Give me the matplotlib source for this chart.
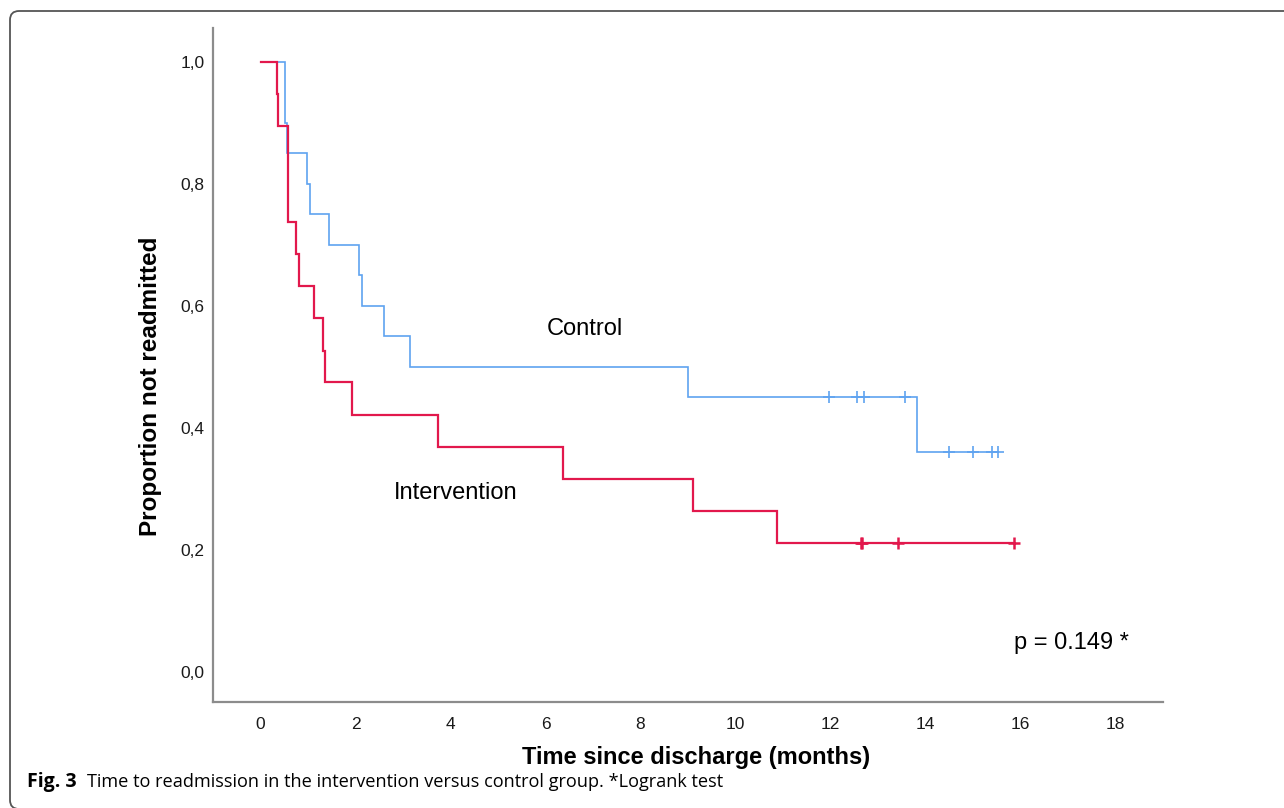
import matplotlib

matplotlib.use("Agg")
import matplotlib.pyplot as plt  # noqa: E402
from matplotlib import font_manager  # noqa: E402
from matplotlib.patches import FancyBboxPatch  # noqa: E402

# Kaplan-Meier steps (months since discharge, proportion)
control_times = [0.0, 0.51, 0.55, 0.97, 1.05, 1.45, 2.08, 2.13, 2.61, 3.14, 9.00, 13.83]
control_surv = [1.0, 0.90, 0.85, 0.80, 0.75, 0.70, 0.65, 0.60, 0.55, 0.50, 0.45, 0.36]
control_censored = [11.96, 12.55, 12.70, 13.56, 14.49, 15.01, 15.41, 15.52]

interv_times = [0.0, 0.34, 0.36, 0.57, 0.74, 0.80, 1.12, 1.31, 1.35, 1.92, 3.73, 6.36, 9.11, 10.88]
interv_surv = [1.0, 0.947, 0.895, 0.737, 0.684, 0.632, 0.579, 0.526, 0.474, 0.421,
               0.368, 0.316, 0.263, 0.211]
interv_censored = [12.64, 12.67, 13.43, 15.87]

x_ticks = [0, 2, 4, 6, 8, 10, 12, 14, 16, 18]
y_ticks = [0.0, 0.2, 0.4, 0.6, 0.8, 1.0]
y_ticklabels = ["0,0", "0,2", "0,4", "0,6", "0,8", "1,0"]

p_text = "p = 0.149 *"
caption_bold = "Fig. 3"
caption_rest = "Time to readmission in the intervention versus control group. *Logrank test"

BLUE = "#5fa3f0"
RED = "#e2184c"
FONT = "Liberation Sans"

names = {f.name for f in font_manager.fontManager.ttflist}
cap_font = "Liberation Sans Narrow" if "Liberation Sans Narrow" in names else "Open Sans"


def surv_at(times, surv, t):
    val = surv[0]
    for ti, si in zip(times, surv):
        if ti <= t:
            val = si
    return val


def km_curve(ax, times, surv, censored, color, lw, mew):
    end = max(censored)
    ax.step(times + [end], surv + [surv[-1]], where="post", color=color, lw=lw,
            solid_joinstyle="miter", zorder=3)
    ax.plot(censored, [surv_at(times, surv, t) for t in censored], ls="none",
            marker="+", ms=8, mew=mew, color=color, zorder=4)


fig = plt.figure(figsize=(12.84, 8.08), dpi=100)
ax = fig.add_axes([213 / 1284, 1 - 702 / 808, 950 / 1284, 674 / 808])

km_curve(ax, control_times, control_surv, control_censored, BLUE, 1.2, 1.2)
km_curve(ax, interv_times, interv_surv, interv_censored, RED, 1.6, 1.8)

ax.set_xlim(-1, 19)
ax.set_ylim(-0.05, 1.055)
ax.set_xticks(x_ticks)
ax.set_xticklabels([str(v) for v in x_ticks], fontname=FONT, fontsize=12.5, color="#1a1a1a")
ax.set_yticks(y_ticks)
ax.set_yticklabels(y_ticklabels, fontname=FONT, fontsize=12.5, color="#1a1a1a")
ax.tick_params(axis="both", length=0)
ax.tick_params(axis="x", pad=11)
ax.tick_params(axis="y", pad=6)
for side in ("top", "right"):
    ax.spines[side].set_visible(False)
for side in ("left", "bottom"):
    ax.spines[side].set_color("#8c8c8c")
    ax.spines[side].set_linewidth(1.6)

ax.set_ylabel("Proportion not readmitted", fontname=FONT, fontsize=17.5, fontweight="bold")
ax.yaxis.set_label_coords(-0.066, 0.469)
ax.yaxis.label.set_va("center")
ax.set_xlabel("Time since discharge (months)", fontname=FONT, fontsize=17, fontweight="bold")
ax.xaxis.set_label_coords(0.509, -0.082)
ax.xaxis.label.set_va("center")

ax.text(6.82, 0.562, "Control", fontname=FONT, fontsize=17, ha="center", va="center")
ax.text(4.11, 0.292, "Intervention", fontname=FONT, fontsize=17, ha="center", va="center")
ax.text(17.07, 0.046, p_text, fontname=FONT, fontsize=17, ha="center", va="center")

# caption under the chart, fitted to the width it takes in the figure
cy = 1 - 782 / 808
t1 = fig.text(27 / 1284, cy, caption_bold, fontname=cap_font, fontweight="bold",
              fontsize=13, va="center", ha="left")
t2 = fig.text(87 / 1284, cy, caption_rest, fontname=cap_font, fontsize=13,
              va="center", ha="left")
fig.canvas.draw()
r = fig.canvas.get_renderer()
w2 = t2.get_window_extent(r).width
t2.set_fontsize(13 * 636 / w2)
w1 = t1.get_window_extent(r).width
t1.set_fontsize(13 * 49 / w1)

# rounded frame around the figure (top and left edges visible)
frame = FancyBboxPatch((10, -1), 1300, 808 - 11 + 1,
                       boxstyle="round,pad=0,rounding_size=9",
                       transform=None, fill=False, ec="#555555", lw=1.3)
fig.patches.append(frame)

fig.savefig("out.png", dpi=100)
plt.close(fig)
